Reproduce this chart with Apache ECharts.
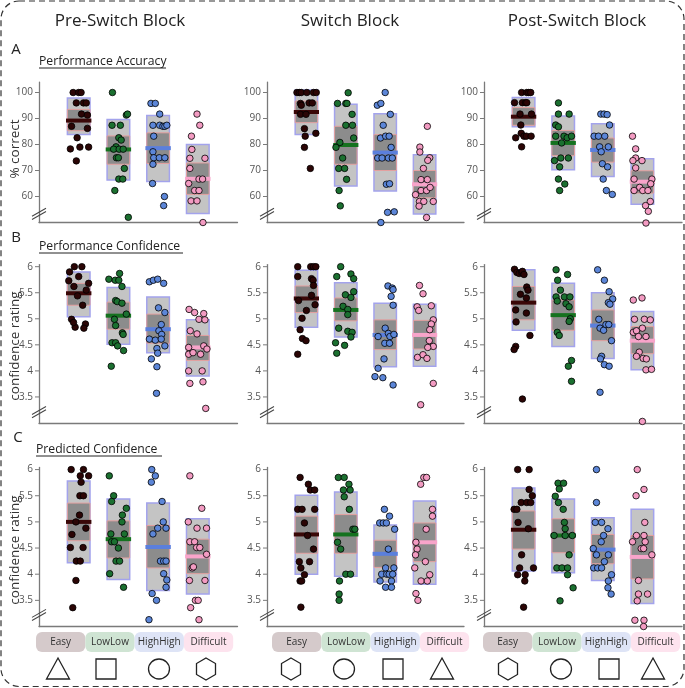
<!DOCTYPE html>
<html><head><meta charset="utf-8">
<script src="https://cdn.jsdelivr.net/npm/echarts@6/dist/echarts.min.js"></script>
<style>html,body{margin:0;padding:0;background:#fff}#c{width:685px;height:688px}</style>
</head><body><div id="c"></div><script>
// ---------- DATA ----------
const groups = ['Easy', 'LowLow', 'HighHigh', 'Difficult'];
const blocks = ['Pre-Switch Block', 'Switch Block', 'Post-Switch Block'];
const rowTitles = ['Performance Accuracy', 'Performance Confidence', 'Predicted Confidence'];
const rowLetters = ['A', 'B', 'C'];
const rowAxisNames = ['% correct', 'confidence rating', 'confidence rating'];
const accTicks = [60, 70, 80, 90, 100];
const confTicks = [3.5, 4, 4.5, 5, 5.5, 6];
const blockShapes = [['triangle', 'square', 'circle', 'hexagon'], ['hexagon', 'circle', 'square', 'triangle'], ['hexagon', 'circle', 'square', 'triangle']];

// stats per group: [outerLow, outerHigh, innerLow, innerHigh, mean]
const accPreStats = [[83.8, 97.9, 85.3, 93.5, 89.2], [66.3, 89.6, 72.4, 83.3, 78.1], [65.8, 91.2, 72.7, 84.5, 78.6], [53.5, 80, 60.8, 72.9, 66.8]];
const accSwitchStats = [[83.8, 101, 88.4, 96.7, 92.5], [64, 95.5, 72.4, 87, 79.8], [62.1, 91.8, 70, 83.8, 76.9], [53.3, 76.1, 59.5, 70, 64.7]];
const accPostStats = [[86.8, 98.1, 87.4, 94.2, 90.7], [70.3, 91, 75.7, 85.4, 80.6], [67.7, 88, 73.2, 82.5, 77.9], [57, 74.5, 61.3, 69.9, 65.7]];
const confPreStats = [[5.04, 5.9, 5.26, 5.68, 5.49], [4.51, 5.6, 4.8, 5.32, 5.06], [4.35, 5.42, 4.53, 5.09, 4.8], [3.9, 4.98, 4.2, 4.68, 4.45]];
const confSwitchStats = [[4.84, 5.93, 5.12, 5.63, 5.39], [4.65, 5.69, 4.96, 5.4, 5.17], [4.08, 5.3, 4.41, 4.98, 4.69], [4.09, 5.28, 4.42, 4.97, 4.69]];
const confPostStats = [[4.78, 5.94, 4.98, 5.62, 5.31], [4.47, 5.68, 4.78, 5.36, 5.07], [4.24, 5.5, 4.58, 5.17, 4.87], [4.02, 5.14, 4.33, 4.85, 4.58]];
const predPreStats = [[4.22, 5.78, 4.64, 5.36, 5.0], [3.9, 5.44, 4.31, 5.02, 4.67], [3.69, 5.36, 4.12, 4.93, 4.52], [3.62, 5.06, 4.01, 4.67, 4.34]];
const predSwitchStats = [[4.0, 5.51, 4.4, 5.11, 4.76], [3.96, 5.57, 4.4, 5.14, 4.76], [3.85, 4.94, 4.13, 4.65, 4.39], [3.81, 5.4, 4.24, 4.98, 4.61]];
const predPostStats = [[4.06, 5.65, 4.48, 5.21, 4.85], [4.03, 5.44, 4.41, 5.06, 4.74], [3.88, 5.08, 4.2, 4.76, 4.47], [3.44, 5.24, 3.91, 4.74, 4.33]];

// individual participant values per group
const accPreVals = [
  [100, 100, 100, 96, 96, 96, 91.7, 91.3, 87, 86.2, 82.6, 78.3, 79, 79, 73.7],
  [100, 91.3, 91.7, 87.4, 87.4, 82.6, 81.7, 79.1, 78.2, 78.2, 78.2, 74.9, 74.9, 70.8, 66.7, 66.7, 62.3, 52],
  [95.8, 95.8, 91.7, 87.4, 87.4, 87, 87, 87.4, 83.2, 77.2, 74.9, 74.9, 74.9, 72.4, 65, 60, 56.5],
  [91.7, 87.4, 83.2, 78.1, 74.7, 74.7, 70.8, 66.7, 66.7, 65, 62.3, 62.3, 58.3, 58.3, 50]];
const accPreJit = [
  [-0.14, 0, 0.06, -0.06, 0.12, 0.19, 0.07, 0.22, -0.18, 0.22, -0.04, -0.21, 0.03, 0.25, -0.06],
  [-0.15, 0.2, 0.23, -0.16, 0.05, 0.01, 0.07, -0.06, -0.12, 0.02, 0.12, -0.05, 0, 0.15, 0.01, 0.11, -0.09, 0.25],
  [-0.18, -0.07, 0.04, -0.13, 0.04, 0.12, 0.17, 0.22, -0.11, -0.13, -0.11, 0.03, 0.17, -0.13, -0.14, 0.16, 0.14],
  [-0.02, 0.05, -0.16, -0.15, -0.2, 0.18, -0.2, 0.03, 0.12, -0.23, -0.08, 0.03, -0.17, -0.02, 0.13]];

const accSwitchVals = [
  [100, 100, 100, 100, 100, 100, 95.8, 95.1, 96, 96, 91.6, 91.6, 86.1, 83.2, 84.3, 78.9, 70.8],
  [99.9, 95.8, 95.8, 95.8, 91.6, 87.4, 87.4, 82.5, 80.8, 78.9, 74.8, 70.8, 70.8, 66.6, 62.3, 56.4],
  [100, 95.1, 95.8, 91.6, 87.4, 82.5, 83.2, 83.2, 78.9, 74.8, 74.8, 74.8, 74.8, 64.7, 64.9, 53.9, 54.1, 50],
  [87, 79, 77.1, 74.9, 73.9, 70.8, 66.5, 66.5, 62.3, 62.3, 63.5, 60.7, 58.1, 58.1, 56.3, 58.1, 51.9]];
const accSwitchJit = [
  [-0.24, -0.18, -0.13, 0.01, 0.18, 0.25, -0.15, -0.13, 0.07, 0.15, -0.15, -0.01, -0.05, -0.03, 0.24, -0.05, 0.1],
  [0.06, -0.21, 0, 0.03, 0.16, 0, 0.17, 0.2, -0.15, -0.25, -0.08, -0.18, -0.03, 0.02, -0.17, -0.14],
  [0, -0.2, -0.11, 0.13, -0.05, -0.12, 0.01, 0.1, 0.15, -0.19, -0.08, 0.08, 0.18, 0.03, 0.11, 0.06, 0.23, -0.11],
  [0.07, -0.12, -0.12, 0.13, 0.08, -0.03, -0.09, 0.07, -0.09, 0.05, 0.14, -0.23, -0.13, -0.02, -0.14, 0.22, 0.05]];

const accPostVals = [
  [100, 100, 100, 100, 96.1, 96.1, 96.1, 96.1, 91.7, 91.7, 87.5, 84.3, 82.6, 83.2, 83.2, 83.2, 79.1],
  [96, 91.7, 91.7, 87.5, 86.8, 83.2, 83.2, 82.6, 83.2, 80.6, 74.8, 74.8, 73.8, 71.4, 66.7, 64.8, 62.3],
  [91.7, 91.7, 91.5, 87.5, 83.2, 83.2, 83.2, 79.1, 79.1, 77.2, 72.6, 71.4, 66.7, 62.3, 60.8],
  [83.2, 78.3, 74.8, 73.8, 73.8, 71, 66.7, 66.7, 64.9, 63.5, 62.3, 62.3, 62.3, 58.1, 56.5, 54.3, 49.8]];
const accPostJit = [
  [-0.05, 0.08, 0.13, 0.18, -0.23, -0.03, 0.05, 0.08, -0.09, 0.2, -0.07, -0.06, -0.2, 0.01, 0.07, 0.19, -0.05],
  [-0.12, -0.12, 0.15, -0.19, -0.12, -0.19, 0.02, 0.1, 0.21, -0.04, -0.06, 0.13, -0.22, -0.09, -0.12, 0.04, -0.09],
  [-0.05, 0.03, 0.11, 0.17, -0.22, -0.11, 0.05, -0.08, 0.14, -0.04, -0.01, 0.12, 0.01, 0.09, 0.24],
  [-0.25, -0.17, -0.17, -0.24, -0.01, -0.17, -0.21, 0.24, 0.21, -0.07, -0.21, 0.01, 0.14, 0.2, 0.08, 0.15, 0.09]];

const confPreVals = [
  [6, 6, 5.9, 5.81, 5.73, 5.62, 5.55, 5.68, 5.44, 5.26, 4.99, 4.84, 4.9, 4.82, 4.93],
  [5.76, 5.74, 5.74, 5.87, 5.62, 5.35, 5.33, 5.3, 5.09, 4.99, 4.87, 4.73, 4.7, 4.54, 4.54, 4.48, 4.39, 4.09],
  [5.71, 5.74, 5.76, 5.68, 5.21, 5.12, 4.89, 4.77, 4.7, 4.61, 4.59, 4.61, 4.43, 4.34, 4.48, 4.23, 4.08, 3.57],
  [5.18, 5.12, 5.1, 4.99, 4.98, 4.77, 4.71, 4.45, 4.32, 4.35, 4.32, 4.48, 4.42, 4, 4, 3.76, 3.79, 3.28]];
const confPreJit = [
  [-0.11, 0.08, -0.23, 0, -0.25, -0.12, 0.19, 0.25, -0.03, 0.1, -0.18, -0.09, 0.17, 0.13, -0.13],
  [-0.24, -0.08, 0.01, 0.03, 0.09, -0.07, -0.03, 0.09, 0.2, -0.1, -0.07, 0.1, 0.12, -0.16, -0.07, -0.02, 0.13, -0.18],
  [-0.22, -0.12, -0.01, 0.14, 0.01, 0.17, 0.08, 0.02, 0.09, -0.22, -0.07, 0.08, -0.03, -0.01, 0.17, -0.17, -0.03, -0.04],
  [-0.22, -0.08, 0.15, 0.03, 0.18, -0.19, -0.02, -0.23, -0.23, -0.12, 0.07, 0.15, 0.23, -0.23, 0.11, -0.2, 0.13, 0.2]];

const confSwitchVals = [
  [6, 6, 6, 6, 5.81, 5.77, 5.74, 5.64, 5.45, 5.35, 5.27, 5.16, 5.01, 4.79, 4.62, 4.58, 4.32],
  [6, 5.81, 5.86, 5.77, 5.52, 5.46, 5.41, 5.24, 5.18, 5.08, 4.82, 4.76, 4.74, 4.65, 4.54, 4.49, 4.34],
  [5.63, 5.59, 5.56, 5.43, 5.26, 4.82, 4.66, 4.72, 4.66, 4.7, 4.53, 4.53, 4.23, 4.05, 3.89, 3.87, 3.73],
  [5.64, 5.48, 5.23, 5.16, 5.25, 4.98, 4.9, 4.79, 4.58, 4.47, 4.45, 4.26, 4.31, 4.24, 3.76, 3.35]];
const confSwitchJit = [
  [-0.22, 0.11, 0.18, 0.24, -0.22, 0.13, 0.17, 0.18, 0.13, -0.2, 0.22, 0, -0.11, -0.16, -0.1, -0.01, -0.22],
  [-0.13, -0.23, 0.13, 0.2, 0.2, -0.01, 0.13, -0.07, 0.05, 0.05, -0.18, 0.05, 0.16, 0.13, -0.26, -0.03, -0.23],
  [0.07, 0.18, 0.2, 0.15, 0.2, 0, -0.18, 0.08, 0.12, 0.22, -0.01, 0.11, -0.03, -0.18, -0.26, -0.06, 0.2],
  [-0.13, -0.04, -0.19, -0.15, 0.17, 0.22, 0.17, 0.13, 0.12, 0.22, 0.08, -0.18, -0.04, 0.06, 0.22, -0.1]];

const confPostVals = [
  [5.95, 5.89, 5.87, 5.89, 5.91, 5.85, 5.61, 5.55, 5.47, 5.4, 5.17, 5.11, 4.94, 4.68, 4.47, 4.41, 3.46],
  [5.94, 5.85, 5.74, 5.55, 5.42, 5.42, 5.42, 5.34, 5.29, 5.23, 5, 4.95, 4.74, 4.68, 4.2, 4.09, 3.8],
  [5.94, 5.74, 5.52, 5.38, 5.31, 5.28, 4.99, 4.82, 4.78, 4.89, 4.89, 4.58, 4.28, 4.23, 4.12, 4.09, 3.59],
  [5.36, 5.4, 4.99, 4.99, 4.98, 4.74, 4.77, 4.82, 4.66, 4.66, 4.36, 4.28, 4.24, 4.23, 4.02, 4.03, 3.03]];
const confPostJit = [
  [-0.23, -0.17, -0.11, -0.05, -0.03, 0.01, 0.08, 0.11, -0.08, 0.07, -0.2, 0.07, -0.19, 0.16, -0.2, -0.24, -0.03],
  [-0.18, 0.11, -0.14, -0.07, -0.18, 0.03, 0.17, -0.15, 0.07, 0.15, 0.18, 0.15, -0.15, -0.1, 0.21, 0.13, 0.21],
  [-0.13, 0.04, 0.16, 0.25, 0.14, 0.18, -0.1, -0.07, 0.02, 0.08, 0.15, 0.22, -0.03, -0.06, 0.04, 0.16, -0.07],
  [-0.23, -0.01, -0.2, 0.05, 0.2, -0.23, -0.15, 0, -0.1, 0.09, -0.08, -0.15, 0.02, 0.1, 0.09, 0.23, 0]];

const predPreVals = [
  [6, 6, 5.88, 5.88, 5.76, 5.5, 5.5, 5.13, 5, 4.88, 4.76, 4.51, 4.51, 4.25, 4.25, 3.88, 3.36],
  [5.88, 5.5, 5.39, 5.26, 5.13, 5, 4.77, 4.77, 4.62, 4.62, 4.5, 4.25, 4.25, 4.01, 3.75],
  [6, 5.88, 5.76, 5.39, 5, 4.88, 4.77, 4.88, 4.25, 4.25, 4.25, 4.01, 3.89, 3.75, 3.63, 3.5, 3.13],
  [5.88, 5.26, 5, 4.62, 4.62, 4.51, 4.51, 4.88, 4.88, 4.38, 4.12, 4.14, 3.88, 3.88, 3.5, 3.5, 3.36, 3.13]];
const predPreJit = [
  [-0.19, 0.12, 0.04, 0.25, 0.06, 0.03, 0.12, 0.02, -0.07, 0.18, -0.17, -0.21, 0.11, -0.06, 0.04, -0.07, -0.15],
  [-0.23, -0.12, -0.17, 0.2, 0.1, 0.09, -0.19, 0.15, -0.17, -0.1, 0, -0.06, 0.03, -0.22, 0.13],
  [-0.16, -0.07, -0.17, 0.1, 0.13, 0.2, -0.13, -0.01, 0.06, 0.14, 0.2, 0.14, 0.22, 0.2, -0.15, -0.04, -0.23],
  [-0.2, 0.1, -0.24, -0.2, -0.08, -0.03, 0.05, 0.22, -0.02, 0.22, -0.14, -0.11, -0.21, 0.18, -0.06, 0.01, -0.18, 0.03]];

const predSwitchVals = [
  [5.85, 5.72, 5.61, 5.61, 5.24, 5.24, 5.24, 4.98, 4.74, 4.48, 4.24, 4.24, 4.12, 3.99, 3.87, 3.87, 3.37],
  [5.85, 5.85, 5.72, 5.61, 5.61, 5.48, 5.24, 4.86, 4.86, 4.61, 4.48, 4, 4, 3.87, 3.62, 3.5],
  [5.24, 5.11, 4.98, 4.98, 4.98, 4.86, 4.48, 4.12, 4.12, 4, 4, 4, 4, 3.87, 3.87, 3.75, 3.75],
  [5.85, 5.85, 5.72, 5.24, 5.11, 4.86, 4.61, 4.48, 4.37, 4.24, 4.12, 3.99, 3.87, 3.87, 3.63, 3.5]];
const predSwitchJit = [
  [-0.16, 0.05, 0.1, 0.21, -0.22, -0.11, 0.21, -0.05, 0.03, 0.18, -0.18, 0.08, -0.14, -0.05, -0.16, -0.12, -0.14],
  [-0.19, -0.04, 0.08, -0.06, 0.11, -0.04, 0.09, 0.18, 0.23, -0.21, -0.13, 0, 0.12, -0.16, -0.17, -0.17],
  [-0.02, 0.11, -0.14, -0.05, 0.03, 0.24, 0.08, 0.01, 0.22, -0.09, 0.04, 0.1, 0.19, -0.13, 0.16, 0.01, 0.16],
  [-0.02, 0.05, -0.1, 0.2, 0.2, 0.04, -0.22, -0.19, -0.23, 0.02, -0.25, 0.13, -0.09, 0.07, -0.22, -0.17]];

const predPostVals = [
  [6, 6, 5.62, 5.5, 5.37, 5.37, 5.37, 5.24, 5.24, 4.99, 4.87, 4.37, 4.12, 4.12, 3.99, 3.99, 3.87, 3.37],
  [5.74, 5.74, 5.63, 5.49, 5.37, 5.24, 4.99, 4.87, 4.74, 4.74, 4.74, 4.37, 4.12, 4.12, 4.12, 3.99, 3.74, 3.49],
  [6, 5.37, 4.99, 4.99, 4.87, 4.74, 4.62, 4.49, 4.37, 4.37, 4.24, 4.12, 4.12, 4.12, 3.99, 3.87, 3.74, 3.62],
  [6, 5.62, 5.5, 4.99, 4.62, 4.74, 4.74, 4.62, 4.49, 4.49, 4.37, 3.88, 3.62, 3.62, 3.49, 3.12, 3.12, 3.0]];
const predPostJit = [
  [-0.15, 0.14, 0.14, 0.22, -0.06, 0.08, 0.18, -0.24, -0.17, -0.14, 0.12, -0.05, -0.1, 0.25, -0.15, 0.04, 0.03, 0],
  [-0.13, 0.01, -0.1, -0.2, -0.12, 0, 0.03, 0.05, -0.23, 0.05, 0.23, 0.15, -0.16, -0.03, 0.11, 0.11, 0.25, -0.08],
  [-0.16, -0.16, -0.19, -0.03, 0.13, 0.02, -0.04, -0.24, -0.16, 0.14, 0.04, -0.23, -0.13, -0.03, 0.22, 0.14, 0.13, 0.21],
  [-0.13, 0.04, -0.16, 0.06, -0.25, -0.15, 0.04, 0.07, -0.03, 0.03, 0.24, -0.1, -0.1, 0.13, -0.13, -0.19, 0.04, 0.03]];

// ---------- LAYOUT / STYLE ----------
const FONT = "'Open Sans', 'Noto Sans', sans-serif";
const dotColors = ['#2b0505', '#1b7030', '#5c86d8', '#f39bc2'];
const meanColors = ['#3a0707', '#15721f', '#5b7fdc', '#f8a4ca'];
const legendFill = ['#d5cacb', '#cfe4d3', '#dee4f6', '#fde3ee'];
const rowsGeom = [
  { top: 82.1, bottom: 222.5, min: 50, max: 104, interval: 10, ticks: accTicks, brk: 53.3, nameY: 149 },
  { top: 264.6, bottom: 423, min: 3, max: 6.04, interval: 0.5, ticks: confTicks, brk: 3.21, nameY: 346 },
  { top: 467.5, bottom: 626.5, min: 3, max: 6.04, interval: 0.5, ticks: confTicks, brk: 3.22, nameY: 550 }];
const colsGeom = [{ left: 39, width: 198.5 }, { left: 267, width: 197 }, { left: 484, width: 198 }];
const panelData = [
  [[accPreVals, accPreJit, accPreStats], [accSwitchVals, accSwitchJit, accSwitchStats], [accPostVals, accPostJit, accPostStats]],
  [[confPreVals, confPreJit, confPreStats], [confSwitchVals, confSwitchJit, confSwitchStats], [confPostVals, confPostJit, confPostStats]],
  [[predPreVals, predPreJit, predPreStats], [predSwitchVals, predSwitchJit, predSwitchStats], [predPostVals, predPostJit, predPostStats]]];

const grid = [], xAxis = [], yAxis = [], series = [];
rowsGeom.forEach((row, r) => colsGeom.forEach((col, c) => {
  const idx = r * 3 + c;
  const [vals, jit, stats] = panelData[r][c];
  grid.push({ left: col.left, width: col.width, top: row.top, height: row.bottom - row.top, containLabel: false, outerBoundsMode: 'none' });
  xAxis.push({ gridIndex: idx, type: 'value', min: -1, max: 4,
    axisLine: { show: true, onZero: false, lineStyle: { color: '#7a7a7a', width: 1.3 } },
    axisTick: { show: false }, axisLabel: { show: false }, splitLine: { show: false } });
  yAxis.push({ gridIndex: idx, type: 'value', min: row.min, max: row.max, interval: row.interval,
    axisLine: { show: true, onZero: false, lineStyle: { color: '#7a7a7a', width: 1.3 } },
    axisTick: { show: false }, splitLine: { show: false },
    axisLabel: { margin: 6, color: '#555', fontSize: 10, fontFamily: FONT,
      formatter: v => row.ticks.some(t => Math.abs(t - v) < 1e-9) ? String(v) : '' } });
  // boxes + mean lines
  series.push({ type: 'custom', xAxisIndex: idx, yAxisIndex: idx, clip: false, silent: true,
    data: stats.map((s, g) => [g].concat(s)),
    renderItem: (p, api) => {
      const g = api.value(0);
      const bw = api.size([0.57, 0])[0], lw = api.size([0.64, 0])[0];
      const x = api.coord([g, row.min])[0];
      const yo0 = api.coord([g, api.value(1)])[1], yo1 = api.coord([g, api.value(2)])[1];
      const yi0 = api.coord([g, api.value(3)])[1], yi1 = api.coord([g, api.value(4)])[1];
      const ym = api.coord([g, api.value(5)])[1];
      return { type: 'group', children: [
        { type: 'rect', shape: { x: x - bw / 2, y: yo1, width: bw, height: yo0 - yo1 }, style: { fill: '#c4c4c4', stroke: '#a3a3ec', lineWidth: 1.5 } },
        { type: 'rect', shape: { x: x - bw / 2, y: yi1, width: bw, height: yi0 - yi1 }, style: { fill: '#8c8c8c', stroke: '#e3a0a0', lineWidth: 1 } },
        { type: 'line', shape: { x1: x - lw / 2, y1: ym, x2: x + lw / 2, y2: ym }, style: { stroke: meanColors[g], lineWidth: 4 } }
      ] };
    } });
  // dots
  groups.forEach((gname, g) => {
    series.push({ type: 'scatter', name: gname, xAxisIndex: idx, yAxisIndex: idx, clip: false, silent: true,
      symbolSize: 6.5, itemStyle: { color: dotColors[g], borderColor: '#000', borderWidth: 0.8, opacity: 1 },
      data: vals[g].map((v, k) => [g + (jit[g][k] || 0), v]) });
  });
  // tick marks
  series.push({ type: 'custom', xAxisIndex: idx, yAxisIndex: idx, clip: false, silent: true,
    data: row.ticks.map(t => [-1, t]),
    renderItem: (p, api) => {
      const pt = api.coord([api.value(0), api.value(1)]);
      return { type: 'line', shape: { x1: pt[0] - 4, y1: pt[1], x2: pt[0], y2: pt[1] }, style: { stroke: '#7a7a7a', lineWidth: 1 } };
    } });
  // axis break mark
  series.push({ type: 'custom', xAxisIndex: idx, yAxisIndex: idx, clip: false, silent: true,
    data: [[-1, row.brk]],
    renderItem: (p, api) => {
      const pt = api.coord([api.value(0), api.value(1)]);
      const mk = d => ({ type: 'line', shape: { x1: pt[0] - 7, y1: pt[1] + 4 + d, x2: pt[0] + 7, y2: pt[1] - 4 + d }, style: { stroke: '#444', lineWidth: 1.1 } });
      return { type: 'group', children: [mk(-1.6), mk(1.6)] };
    } });
}));

// ---------- GRAPHIC DECORATION ----------
const graphic = [];
graphic.push({ type: 'rect', shape: { x: 1, y: 1, width: 683, height: 685.5, r: 18 }, style: { fill: 'none', stroke: '#333', lineWidth: 1.2, lineDash: [6, 4] }, silent: true });
const titleX = [120, 350, 577];
blocks.forEach((b, i) => graphic.push({ type: 'text', x: titleX[i], y: 21, style: { text: b, fontSize: 17, fontFamily: FONT, fill: '#222', align: 'center', verticalAlign: 'middle' } }));
const letterPos = [[16, 50], [16, 238], [18, 438]];
rowLetters.forEach((l, i) => graphic.push({ type: 'text', x: letterPos[i][0], y: letterPos[i][1], style: { text: l, fontSize: 15, fontFamily: FONT, fill: '#222', align: 'center', verticalAlign: 'middle' } }));
rowAxisNames.forEach((n, i) => graphic.push({ type: 'text', x: 15, y: rowsGeom[i].nameY, rotation: Math.PI / 2, style: { text: n, fontSize: 13.5, fontFamily: FONT, fill: '#333', align: 'center', verticalAlign: 'middle' } }));
const subPos = [[39, 62, 166], [39, 247, 183], [36, 450, 162]];
rowTitles.forEach((t, i) => {
  graphic.push({ type: 'text', x: subPos[i][0], y: subPos[i][1], style: { text: t, fontSize: 12.2, fontFamily: FONT, fill: '#222', align: 'left', verticalAlign: 'middle' } });
  graphic.push({ type: 'line', shape: { x1: subPos[i][0], y1: subPos[i][1] + 6, x2: subPos[i][2], y2: subPos[i][1] + 6 }, style: { stroke: '#222', lineWidth: 1 } });
});
const legendStart = [36, 272, 483];
const shapeX = [[58, 106, 159, 206], [291, 344, 393, 442], [508, 561, 609, 653]];
const shapeEl = (kind, cx, cy) => {
  const st = { fill: '#fff', stroke: '#222', lineWidth: 1.3 };
  if (kind === 'triangle') return { type: 'polygon', shape: { points: [[cx, cy - 11], [cx + 11.5, cy + 10], [cx - 11.5, cy + 10]] }, style: st };
  if (kind === 'square') return { type: 'rect', shape: { x: cx - 10, y: cy - 10, width: 20, height: 20 }, style: st };
  if (kind === 'circle') return { type: 'ellipse', shape: { cx: cx, cy: cy, rx: 10.5, ry: 10 }, style: st };
  return { type: 'polygon', shape: { points: [[cx, cy - 11], [cx + 9.5, cy - 5.5], [cx + 9.5, cy + 5.5], [cx, cy + 11], [cx - 9.5, cy + 5.5], [cx - 9.5, cy - 5.5]] }, style: st };
};
blocks.forEach((b, bi) => {
  groups.forEach((g, gi) => {
    const x0 = legendStart[bi] + gi * 49.3;
    graphic.push({ type: 'rect', shape: { x: x0, y: 632, width: 49.3, height: 20, r: 6 }, style: { fill: legendFill[gi] } });
    graphic.push({ type: 'text', x: x0 + 24.6, y: 642, style: { text: g, fontSize: 10, fontFamily: FONT, fill: '#333', align: 'center', verticalAlign: 'middle' } });
    graphic.push(shapeEl(blockShapes[bi][gi], shapeX[bi][gi], 669));
  });
});

const chart = echarts.init(document.getElementById('c'), null, { renderer: 'canvas' });
chart.setOption({ animation: false, backgroundColor: '#fff', grid, xAxis, yAxis, series, graphic });
</script></body></html>
